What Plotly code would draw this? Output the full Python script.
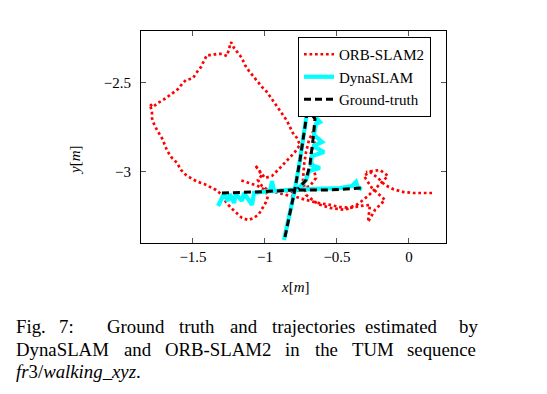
import plotly.graph_objects as go

# ---------------- data (metres) ----------------
orb_x = [0.160, 0.097, 0.028, -0.042, -0.111, -0.167, -0.215, -0.271, -0.313, -0.257,
         -0.167, -0.236, -0.285, -0.271, -0.340, -0.410, -0.479, -0.549, -0.632, -0.715,
         -0.785, -0.854, -0.924, -0.979, -1.021, -1.049, -1.021, -1.069, -1.000, -0.951,
         -0.910, -0.868, -0.826, -0.792, -0.757, -0.778, -0.806, -0.826, -0.847, -0.875,
         -0.903, -0.931, -0.958, -0.986, -1.021, -1.049, -1.083, -1.111, -1.139, -1.160,
         -1.188, -1.215, -1.236, -1.250, -1.264, -1.299, -1.333, -1.368, -1.403, -1.424,
         -1.444, -1.472, -1.500, -1.521, -1.549, -1.576, -1.604, -1.639, -1.674, -1.708,
         -1.743, -1.778, -1.799, -1.785, -1.785, -1.771, -1.750, -1.729, -1.708, -1.694,
         -1.674, -1.646, -1.611, -1.583, -1.549, -1.507, -1.465, -1.424, -1.382, -1.340,
         -1.299, -1.271, -1.236, -1.201, -1.160, -1.118, -1.076, -1.042, -1.014, -0.993,
         -0.979, -1.000, -1.049, -1.090, -1.132, -1.174,
         None,
         -0.896, -0.813, -0.757, -0.688, -0.646, -0.667, -0.688, -0.653, -0.667, -0.694,
         -0.715, -0.729, -0.736, -0.715, -0.632, -0.549, -0.444, -0.354, -0.285, -0.215,
         -0.146, -0.201, -0.299]
orb_y = [-3.118, -3.118, -3.118, -3.112, -3.096, -3.073, -3.034, -3.000, -3.022, -3.090,
         -3.157, -3.213, -3.281, -3.185, -3.191, -3.202, -3.197, -3.185, -3.174, -3.157,
         -3.140, -3.129, -3.112, -3.101, -3.079, -3.045, -3.017, -2.961, -3.034, -3.022,
         -2.989, -2.955, -2.921, -2.888, -2.848, -2.809, -2.781, -2.747, -2.713, -2.680,
         -2.646, -2.612, -2.579, -2.551, -2.522, -2.494, -2.466, -2.433, -2.399, -2.360,
         -2.331, -2.303, -2.270, -2.315, -2.348, -2.337, -2.337, -2.343, -2.343, -2.376,
         -2.410, -2.438, -2.472, -2.478, -2.483, -2.506, -2.534, -2.556, -2.579, -2.596,
         -2.612, -2.635, -2.618, -2.663, -2.697, -2.730, -2.764, -2.792, -2.820, -2.854,
         -2.888, -2.921, -2.949, -2.989, -3.017, -3.039, -3.056, -3.067, -3.084, -3.101,
         -3.129, -3.169, -3.202, -3.230, -3.258, -3.270, -3.258, -3.236, -3.202, -3.169,
         -3.135, -3.101, -3.079, -3.067, -3.056, -3.045,
         None,
         -3.101, -3.112, -3.101, -3.079, -3.034, -2.961, -2.904, -2.848, -2.775, -2.820,
         -2.888, -2.961, -3.045, -3.129, -3.180, -3.202, -3.213, -3.180, -3.135, -3.079,
         -3.022, -2.989, -3.000]

dyna_x = [-1.326, -1.285, -1.257, -1.243, -1.215, -1.201, -1.160, -1.146, -1.090, -1.076,
          -1.021, -0.965, -0.951, -0.938, -0.826, -0.618, -0.479, -0.396, -0.368, -0.354,
          -0.326,
          None,
          -0.868, -0.826, -0.792, -0.757, -0.729, -0.708, -0.674, -0.646, -0.618, -0.646,
          -0.660, -0.604, -0.667, -0.590, -0.674, -0.681, -0.618, -0.694, -0.715, -0.771]
dyna_y = [-3.191, -3.124, -3.163, -3.124, -3.174, -3.124, -3.163, -3.118, -3.185, -3.118,
          -3.112, -3.107, -3.051, -3.107, -3.101, -3.096, -3.090, -3.079, -3.056, -3.090,
          -3.096,
          None,
          -3.382, -3.225, -3.096, -2.933, -2.792, -2.663, -2.669, -2.691, -2.719, -2.730,
          -2.792, -2.831, -2.854, -2.888, -2.910, -2.961, -2.978, -2.994, -3.045, -3.096]

gt_x = [-1.299, -1.056, -0.792, -0.549, -0.326,
        None,
        -0.861, -0.826, -0.792, -0.757, -0.729, -0.708, -0.681, -0.653, -0.667, -0.688,
        -0.715, -0.771]
gt_y = [-3.118, -3.112, -3.101, -3.101, -3.090,
        None,
        -3.365, -3.225, -3.096, -2.933, -2.792, -2.669, -2.669, -2.702, -2.820, -2.961,
        -3.045, -3.096]

x_ticks = [-1.5, -1.0, -0.5, 0.0]
x_tick_labels = ["\u22121.5", "\u22121", "\u22120.5", "0"]
y_ticks = [-3.0, -2.5]
y_tick_labels = ["\u22123", "\u22122.5"]

# ---------------- layout helpers ----------------
# page body has an 8px margin, so the figure is drawn 8px smaller and offset
OFF = 8
W, H = 547 - OFF, 394 - OFF
L, R, T, B = 141, 446, 31, 243   # plot frame in window pixels
SERIF = "Liberation Serif"


def pxx(v):
    return (v - L) / (R - L)


def pxy(v):
    return (B - v) / (B - T)


fig = go.Figure()
fig.add_trace(go.Scatter(x=orb_x, y=orb_y, mode="lines", name="ORB-SLAM2",
                         line=dict(color="#ff0000", width=2.7, dash="2.7px,2.8px")))
fig.add_trace(go.Scatter(x=dyna_x, y=dyna_y, mode="lines", name="DynaSLAM",
                         line=dict(color="#00ffff", width=4.2)))
fig.add_trace(go.Scatter(x=gt_x, y=gt_y, mode="lines", name="Ground-truth",
                         line=dict(color="#000000", width=3, dash="7px,4px")))

axis_common = dict(showgrid=False, zeroline=False, showline=True, linecolor="black",
                   linewidth=1, mirror="ticks", ticks="inside", ticklen=5,
                   tickcolor="#555555", tickwidth=1,
                   tickfont=dict(family=SERIF, size=15, color="black"))

fig.update_xaxes(range=[-1.861, 0.257], tickvals=x_ticks, ticktext=x_tick_labels,
                 ticklabelstandoff=0, **axis_common)
fig.update_yaxes(range=[-3.399, -2.208], tickvals=y_ticks, ticktext=y_tick_labels,
                 ticklabelstandoff=6, **axis_common)

annotations = [
    dict(text="<i>x</i>[<i>m</i>]", x=pxx(295), y=pxy(287), xanchor="center", yanchor="middle",
         font=dict(family=SERIF, size=15, color="black")),
    dict(text="<i>y</i>[<i>m</i>]", x=pxx(75), y=pxy(160), xanchor="center", yanchor="middle",
         textangle=-90, font=dict(family=SERIF, size=15, color="black")),
]

line1 = [("Fig.", 14), ("7:", 57), ("Ground", 105), ("truth", 177), ("and", 228),
         ("trajectories", 270), ("estimated", 363), ("by", 457)]
line2 = [("DynaSLAM", 14), ("and", 122), ("ORB-SLAM2", 163), ("in", 283), ("the", 313),
         ("TUM", 350), ("sequence", 405)]
line3 = [("<i>fr</i>3/<i>walking</i>_<i>xyz</i>.", 14)]
for words, yc in ((line1, 326), (line2, 349), (line3, 371)):
    for w, xl in words:
        annotations.append(dict(text=w, x=pxx(xl), y=pxy(yc), xanchor="left",
                                yanchor="middle",
                                font=dict(family=SERIF, size=18.8, color="black")))
for a in annotations:
    a.update(xref="paper", yref="paper", showarrow=False)

fig.update_layout(
    width=W, height=H,
    margin=dict(l=L - OFF, r=W - (R - OFF), t=T - OFF, b=H - (B - OFF)),
    paper_bgcolor="white", plot_bgcolor="white",
    font=dict(family=SERIF, color="black"),
    showlegend=True,
    legend=dict(x=pxx(298), y=pxy(37), xanchor="left", yanchor="top",
                bgcolor="white", bordercolor="black", borderwidth=1,
                font=dict(family=SERIF, size=15, color="black"),
                itemwidth=30, tracegroupgap=0),
    annotations=annotations,
)

fig.write_html("out.html")
